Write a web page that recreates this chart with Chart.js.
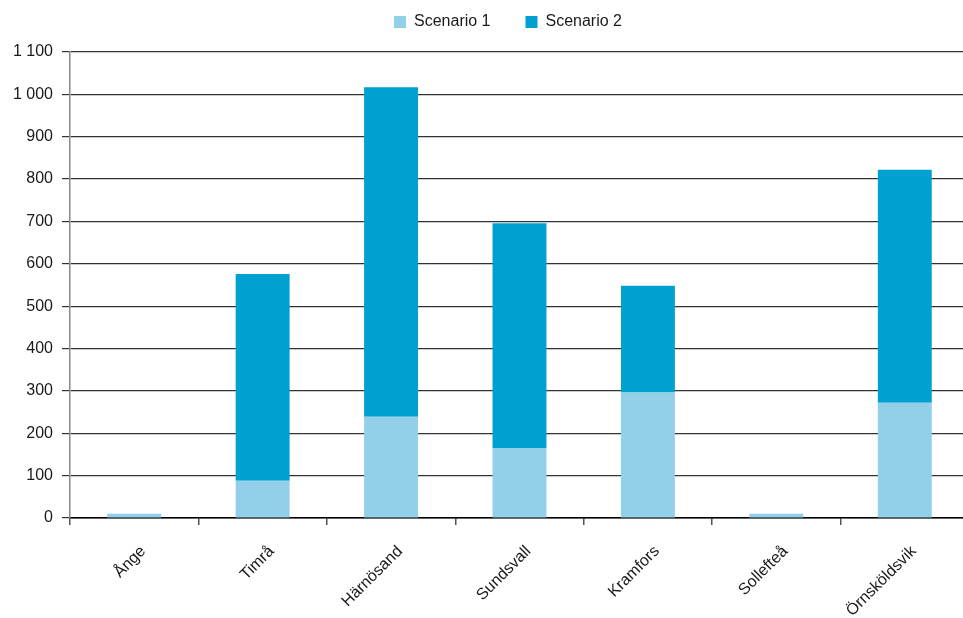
<!DOCTYPE html>
<html>
<head>
<meta charset="utf-8">
<script src="https://cdn.jsdelivr.net/npm/chart.js@4.4.0/dist/chart.umd.min.js"></script>
<style>
  html, body { margin: 0; padding: 0; background: #fff; overflow: hidden; }
  #wrap { position: absolute; left: 0; top: 0; width: 969px; height: 618px; }
</style>
</head>
<body>
<div id="wrap"><canvas id="c" width="969" height="618"></canvas></div>
<script>
const categories = ['Ånge', 'Timrå', 'Härnösand', 'Sundsvall', 'Kramfors', 'Sollefteå', 'Örnsköldsvik'];
const seriesNames = ['Scenario 1', 'Scenario 2'];
const scenario1 = [10, 88, 239, 165, 296, 10, 272];
const scenario2 = [0, 488, 778, 531, 252, 0, 550];
const yMax = 1100;
const yStep = 100;

const fmt = v => String(v).replace(/\B(?=(\d{3})+(?!\d))/g, ' ');

const LEGEND_PAD = 35;
const legendTweak = {
  id: 'legendTweak',
  afterInit(chart) {
    const lg = chart.legend;
    if (!lg || lg._tweaked) return;
    const orig = lg.fit;
    lg.fit = function () { orig.call(this); this.height = 52; };
    lg._tweaked = true;
  },
  afterLayout(chart) {
    const lg = chart.legend;
    if (!lg) return;
    lg.left += 23.5; lg.right += 23.5;
    lg.top = 14 - LEGEND_PAD;
  }
};

new Chart(document.getElementById('c'), {
  type: 'bar',
  data: {
    labels: categories,
    datasets: [
      { label: seriesNames[0], data: scenario1, backgroundColor: '#92D0EA', borderWidth: 0 },
      { label: seriesNames[1], data: scenario2, backgroundColor: '#00A0D1', borderWidth: 0 }
    ]
  },
  options: {
    responsive: false,
    animation: false,
    layout: { padding: 0 },
    datasets: { bar: { barPercentage: 0.42, categoryPercentage: 1 } },
    plugins: {
      legend: {
        position: 'top',
        labels: {
          boxWidth: 12, boxHeight: 12, padding: LEGEND_PAD,
          color: '#1a1a1a',
          font: { family: '"Liberation Sans", Arial, sans-serif', size: 16 }
        }
      },
      tooltip: { enabled: false }
    },
    scales: {
      x: {
        stacked: true,
        afterFit(s) { s.height = 100; },
        border: { color: '#000', width: 1.5 },
        grid: { offset: true, drawOnChartArea: false, drawTicks: true, tickLength: 7, color: '#555', lineWidth: 1.5 },
        ticks: {
          minRotation: 45, maxRotation: 45, padding: 17, labelOffset: 9,
          color: '#1a1a1a',
          font: { family: '"Liberation Sans", Arial, sans-serif', size: 16 }
        }
      },
      y: {
        stacked: true,
        min: 0, max: yMax,
        afterFit(s) { s.width = 70; },
        border: { color: '#888', width: 1.5 },
        grid: { color: '#333', lineWidth: 1.2, tickLength: 8, drawTicks: true },
        ticks: {
          stepSize: yStep, padding: 9,
          color: '#1a1a1a',
          font: { family: '"Liberation Sans", Arial, sans-serif', size: 16 },
          callback: v => fmt(v)
        }
      }
    }
  },
  plugins: [legendTweak]
});
</script>
</body>
</html>
